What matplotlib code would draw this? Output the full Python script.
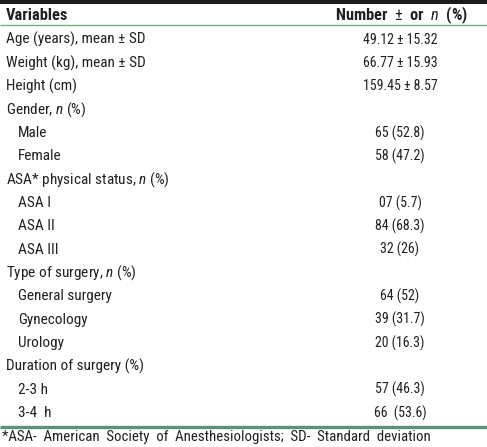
import matplotlib
matplotlib.use("Agg")
import matplotlib.pyplot as plt
from matplotlib import font_manager

names = {f.name for f in font_manager.fontManager.ttflist}
BASE = "Roboto Condensed" if "Roboto Condensed" in names else "DejaVu Sans"
FAM = [BASE, "DejaVu Sans"]

header = ["Variables", "Number  $\\pm$  or  $\\mathbf{\\mathit{n}}$  (%)"]
variables = [
    "Age (years), mean \u00b1 SD",
    "Weight (kg), mean \u00b1 SD",
    "Height (cm)",
    "Gender, $\\mathit{n}$ (%)",
    "Male",
    "Female",
    "ASA* physical status, $\\mathit{n}$ (%)",
    "ASA I",
    "ASA II",
    "ASA III",
    "Type of surgery, $\\mathit{n}$ (%)",
    "General surgery",
    "Gynecology",
    "Urology",
    "Duration of surgery (%)",
    "2-3 h",
    "3-4  h",
]
indented = [False, False, False, False, True, True, False, True, True, True,
            False, True, True, True, False, True, True]
values = ["49.12 \u00b1 15.32", "66.77 \u00b1 15.93", "159.45 \u00b1 8.57", "",
          "65 (52.8)", "58 (47.2)", "", "07 (5.7)", "84 (68.3)", "32 (26)", "",
          "64 (52)", "39 (31.7)", "20 (16.3)", "", "57 (46.3)", "66  (53.6)"]
footnote = "*ASA-  American  Society  of  Anesthesiologists;  SD-  Standard  deviation"

plt.rcParams['font.family'] = FAM
plt.rcParams['mathtext.fontset'] = 'custom'
plt.rcParams['mathtext.rm'] = BASE
plt.rcParams['mathtext.it'] = BASE + ':italic'
plt.rcParams['mathtext.bf'] = BASE + ':bold'
plt.rcParams['mathtext.bfit'] = BASE + ':italic:bold'

W, H = 487, 447
fig = plt.figure(figsize=(W / 100, H / 100), dpi=100)
ax = fig.add_axes([0, 0, 1, 1])
ax.set_xlim(0, W)
ax.set_ylim(H, 0)
ax.axis("off")

txt = "#231f20"
green = "#5e9173"
fs_lab = 11.0
fs_val = 10.0

# top black bar
ax.fill_between([0, W], 0, 4, color="#1a1a1a", lw=0)
# header
ax.text(6, 15, header[0], fontsize=11.8, fontweight="bold", color=txt, va="center", ha="left")
ax.text(468, 15, header[1], fontsize=11.8, fontweight="bold",
        color=txt, va="center", ha="right")
ax.plot([0, W], [25, 25], color="#7aa88a", lw=1.0, solid_capstyle="butt")

y0, dy = 39.5, 23.35
for i, (lab, ind, val) in enumerate(zip(variables, indented, values)):
    y = y0 + i * dy
    ax.text(18 if ind else 6, y, lab, fontsize=fs_lab, color=txt, va="center", ha="left")
    if val:
        ax.text(400, y, val, fontsize=fs_val, color=txt, va="center", ha="center")

ax.plot([0, W], [426.5, 426.5], color=green, lw=2.4, solid_capstyle="butt")
ax.text(2, 437.5, footnote, fontsize=10.7, color=txt, va="center", ha="left")

fig.savefig("out.png", dpi=100)
